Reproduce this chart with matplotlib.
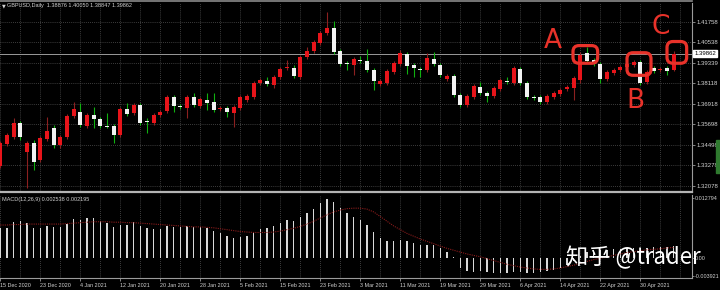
import matplotlib
matplotlib.use('Agg')
import matplotlib.pyplot as plt
import matplotlib.transforms as mtransforms
from matplotlib.patches import FancyBboxPatch, Rectangle
import numpy as np

# GBPUSD daily, 15 Dec 2020 .. 4 May 2021
opens = [1.3325, 1.3455, 1.3496, 1.3578, 1.3407, 1.3460, 1.3360, 1.3484, 1.3549, 1.3449,
         1.3496, 1.3619, 1.3643, 1.3560, 1.3625, 1.3602, 1.3560, 1.3560, 1.3508, 1.3661,
         1.3637, 1.3684, 1.3590, 1.3578, 1.3625, 1.3649, 1.3731, 1.3678, 1.3666, 1.3731,
         1.3678, 1.3714, 1.3702, 1.3661, 1.3666, 1.3637, 1.3666, 1.3714, 1.3731, 1.3814,
         1.3826, 1.3802, 1.3849, 1.3902, 1.3902, 1.3849, 1.3967, 1.4002, 1.4049, 1.4108,
         1.4138, 1.4002, 1.3932, 1.3920, 1.3949, 1.3943, 1.3890, 1.3808, 1.3814, 1.3879,
         1.3926, 1.3985, 1.3920, 1.3896, 1.3890, 1.3955, 1.3920, 1.3837, 1.3855, 1.3743,
         1.3684, 1.3731, 1.3790, 1.3755, 1.3737, 1.3778, 1.3826, 1.3814, 1.3896, 1.3814,
         1.3731, 1.3731, 1.3702, 1.3731, 1.3749, 1.3778, 1.3784, 1.3831, 1.3990, 1.3949,
         1.3926, 1.3837, 1.3873, 1.3890, 1.3908, 1.3920, 1.3937, 1.3820, 1.3902, 1.3890,
         1.3902, 1.38876]
highs = [1.3472, 1.3519, 1.3608, 1.3590, 1.3472, 1.3478, 1.3502, 1.3613, 1.3566, 1.3508,
         1.3631, 1.3702, 1.3696, 1.3637, 1.3672, 1.3613, 1.3637, 1.3572, 1.3672, 1.3696,
         1.3696, 1.3696, 1.3608, 1.3637, 1.3655, 1.3743, 1.3743, 1.3690, 1.3743, 1.3755,
         1.3731, 1.3755, 1.3755, 1.3678, 1.3678, 1.3684, 1.3743, 1.3749, 1.3826, 1.3843,
         1.3849, 1.3861, 1.3908, 1.3949, 1.3920, 1.3979, 1.4026, 1.4067, 1.4120, 1.4232,
         1.4179, 1.4014, 1.3943, 1.3967, 1.3973, 1.4014, 1.3902, 1.3837, 1.3896, 1.3943,
         1.4008, 1.3996, 1.3932, 1.3908, 1.3990, 1.3996, 1.3932, 1.3867, 1.3867, 1.3755,
         1.3749, 1.3808, 1.3820, 1.3767, 1.3796, 1.3843, 1.3849, 1.3914, 1.3908, 1.3826,
         1.3743, 1.3743, 1.3749, 1.3767, 1.3784, 1.3802, 1.3855, 1.3996, 1.4026, 1.3961,
         1.3937, 1.3890, 1.3902, 1.3920, 1.3937, 1.3949, 1.3949, 1.3890, 1.3914, 1.3908,
         1.3914, 1.40050]
lows = [1.3313, 1.3443, 1.3484, 1.3478, 1.3195, 1.3301, 1.3348, 1.3472, 1.3431, 1.3431,
        1.3484, 1.3608, 1.3554, 1.3549, 1.3549, 1.3549, 1.3549, 1.3460, 1.3496, 1.3619,
        1.3625, 1.3566, 1.3519, 1.3566, 1.3613, 1.3637, 1.3643, 1.3661, 1.3608, 1.3672,
        1.3666, 1.3655, 1.3643, 1.3649, 1.3613, 1.3554, 1.3655, 1.3702, 1.3719, 1.3802,
        1.3796, 1.3784, 1.3837, 1.3890, 1.3843, 1.3837, 1.3955, 1.3990, 1.4038, 1.4097,
        1.3985, 1.3914, 1.3890, 1.3861, 1.3932, 1.3879, 1.3772, 1.3796, 1.3802, 1.3867,
        1.3914, 1.3867, 1.3849, 1.3849, 1.3879, 1.3914, 1.3849, 1.3826, 1.3731, 1.3672,
        1.3672, 1.3719, 1.3743, 1.3702, 1.3725, 1.3767, 1.3808, 1.3802, 1.3802, 1.3719,
        1.3714, 1.3690, 1.3690, 1.3719, 1.3737, 1.3767, 1.3714, 1.3814, 1.3932, 1.3914,
        1.3814, 1.3826, 1.3861, 1.3879, 1.3896, 1.3908, 1.3802, 1.3808, 1.3873, 1.3879,
        1.3861, 1.38847]
closes = [1.3460, 1.3508, 1.3578, 1.3496, 1.3460, 1.3348, 1.3490, 1.3531, 1.3449, 1.3496,
          1.3619, 1.3661, 1.3566, 1.3625, 1.3602, 1.3560, 1.3554, 1.3508, 1.3661, 1.3631,
          1.3684, 1.3578, 1.3584, 1.3625, 1.3643, 1.3731, 1.3678, 1.3672, 1.3731, 1.3684,
          1.3719, 1.3696, 1.3655, 1.3666, 1.3643, 1.3672, 1.3731, 1.3737, 1.3814, 1.3831,
          1.3808, 1.3849, 1.3896, 1.3908, 1.3855, 1.3967, 1.4002, 1.4055, 1.4108, 1.4138,
          1.3996, 1.3926, 1.3926, 1.3955, 1.3943, 1.3890, 1.3826, 1.3826, 1.3885, 1.3932,
          1.3990, 1.3914, 1.3902, 1.3890, 1.3961, 1.3926, 1.3861, 1.3855, 1.3743, 1.3684,
          1.3737, 1.3796, 1.3755, 1.3737, 1.3784, 1.3831, 1.3820, 1.3902, 1.3814, 1.3731,
          1.3725, 1.3702, 1.3737, 1.3755, 1.3772, 1.3790, 1.3843, 1.3979, 1.3943, 1.3926,
          1.3837, 1.3879, 1.3890, 1.3908, 1.3926, 1.3937, 1.3814, 1.3879, 1.3885, 1.3896,
          1.3885, 1.39862]

macd = [0.0064, 0.0064, 0.0076, 0.0079, 0.0074, 0.0064, 0.0064, 0.0068, 0.0066, 0.0066,
        0.0072, 0.0083, 0.0081, 0.0085, 0.0085, 0.0079, 0.0074, 0.0066, 0.0070, 0.0070,
        0.0076, 0.0068, 0.0064, 0.0061, 0.0061, 0.0068, 0.0066, 0.0066, 0.0068, 0.0066,
        0.0066, 0.0064, 0.0057, 0.0053, 0.0046, 0.0042, 0.0044, 0.0046, 0.0055, 0.0061,
        0.0064, 0.0068, 0.0074, 0.0081, 0.0079, 0.0087, 0.0096, 0.0104, 0.0117, 0.0126,
        0.0119, 0.0106, 0.0096, 0.0087, 0.0081, 0.0070, 0.0055, 0.0042, 0.0036, 0.0036,
        0.0038, 0.0036, 0.0032, 0.0027, 0.0027, 0.0027, 0.0021, 0.0012, 0.0002, -0.0022,
        -0.0028, -0.0031, -0.0028, -0.0031, -0.0033, -0.0033, -0.0033, -0.0031, -0.0031, -0.0033,
        -0.0033, -0.0031, -0.0028, -0.0026, -0.0022, -0.0015, -0.0006, 0.0004, 0.0012, 0.0016,
        0.0016, 0.0017, 0.0018, 0.0019, 0.0020, 0.0021, 0.0020, 0.0021, 0.0022, 0.0023,
        0.0024, 0.002538]
signal = [0.0070, 0.0070, 0.0071, 0.0071, 0.0072, 0.0072, 0.0072, 0.0072, 0.0072, 0.0072,
          0.0073, 0.0074, 0.0075, 0.0076, 0.0077, 0.0077, 0.0077, 0.0076, 0.0076, 0.0075,
          0.0075, 0.0074, 0.0073, 0.0072, 0.0071, 0.0070, 0.0069, 0.0068, 0.0067, 0.0066,
          0.0066, 0.0065, 0.0064, 0.0062, 0.0060, 0.0058, 0.0056, 0.0055, 0.0054, 0.0054,
          0.0054, 0.0055, 0.0057, 0.0060, 0.0063, 0.0067, 0.0072, 0.0078, 0.0085, 0.0092,
          0.0098, 0.0102, 0.0105, 0.0106, 0.0106, 0.0104, 0.0098, 0.0088, 0.0078, 0.0068,
          0.0060, 0.0052, 0.0046, 0.0040, 0.0035, 0.0030, 0.0025, 0.0020, 0.0016, 0.0012,
          0.0008, 0.0005, 0.0002, -0.0002, -0.0006, -0.0010, -0.0014, -0.0017, -0.0020, -0.0022,
          -0.0024, -0.0025, -0.0025, -0.0024, -0.0022, -0.0019, -0.0016, -0.0012, -0.0008, -0.0004,
          -0.0001, 0.0002, 0.0005, 0.0008, 0.0011, 0.0013, 0.0015, 0.0017, 0.0018, 0.0019,
          0.0021, 0.002195]

date_labels = ['15 Dec 2020', '23 Dec 2020', '4 Jan 2021', '12 Jan 2021', '20 Jan 2021',
               '28 Jan 2021', '5 Feb 2021', '15 Feb 2021', '23 Feb 2021', '3 Mar 2021',
               '11 Mar 2021', '19 Mar 2021', '29 Mar 2021', '6 Apr 2021', '14 Apr 2021',
               '22 Apr 2021', '30 Apr 2021']
price_ticks = [1.41758, 1.40538, 1.39339, 1.38118, 1.36918, 1.35698, 1.34498, 1.33278, 1.32078]
macd_ticks = [0.012794, 0.0, -0.003921]
last_price = 1.39862

BG = 'black'
TXT = '#d2d2d2'
GRID = '#505050'
BULL = '#e8141a'
BEAR = '#f2f2f2'
BULL_WICK = '#8c2020'
BEAR_WICK = '#10b010'
MARK = '#e8322a'
SMALL = 'Liberation Sans'


def main() -> int:
    W, H = 720, 290
    fig = plt.figure(figsize=(W / 100, H / 100), dpi=100, facecolor=BG)
    ax = fig.add_axes([0, (H - 192) / H, 692 / W, 189 / H], facecolor=BG)
    ax2 = fig.add_axes([0, (H - 278) / H, 692 / W, 83 / H], facecolor=BG)

    n = len(opens)
    idx = np.arange(n)
    xlim = (-0.05, 103.75)

    # grid
    for a in (ax, ax2):
        for k in range(0, 105, 3):
            a.axvline(k, color=GRID, lw=0.6, ls=(0, (1, 1.5)), zorder=0)
    for p in price_ticks:
        ax.axhline(p, color=GRID, lw=0.6, ls=(0, (1, 1.5)), zorder=0)
    ax.axhline(last_price, color='#9a9a9a', lw=0.7, zorder=1)

    # candles
    o = np.array(opens); c = np.array(closes)
    up = c >= o
    ax.vlines(idx[up], np.array(lows)[up], np.array(highs)[up], color=BULL_WICK, lw=0.8, zorder=2)
    ax.vlines(idx[~up], np.array(lows)[~up], np.array(highs)[~up], color=BEAR_WICK, lw=0.8, zorder=2)
    body = np.maximum(np.abs(c - o), 0.0006)
    ax.bar(idx[up], body[up], bottom=o[up], width=0.64, color=BULL, zorder=3)
    ax.bar(idx[~up], body[~up], bottom=c[~up], width=0.64, color=BEAR, zorder=3)

    ax.set_xlim(*xlim)
    ax.set_ylim(1.31717, 1.42849)
    ax.set_xticks([])
    ax.yaxis.tick_right()
    ax.set_yticks(price_ticks)
    ax.set_yticklabels(['%.5f' % p for p in price_ticks], family=SMALL)
    ax.tick_params(axis='y', colors='#9a9a9a', labelcolor=TXT, labelsize=4.3, length=2, pad=1.5, width=0.6)

    # current price box
    tr = mtransforms.blended_transform_factory(ax.transAxes, ax.transData)
    ax.text(1.003, last_price, '%.5f' % last_price, transform=tr, fontsize=4.3, family=SMALL,
            color='black', va='center', ha='left', clip_on=False,
            bbox=dict(boxstyle='square,pad=0.2', fc='white', ec='white'))

    # annotation boxes and letters
    asp = (0.000589 / 0.15)
    for x0, x1, y0, y1 in [(85.9, 89.6, 1.3930, 1.4034),
                           (94.0, 97.6, 1.3859, 1.3992),
                           (100.0, 102.95, 1.3930, 1.4058)]:
        ax.add_patch(FancyBboxPatch((x0, y0), x1 - x0, y1 - y0,
                                    boxstyle='round,pad=0,rounding_size=0.9',
                                    mutation_aspect=asp, fill=False,
                                    ec=MARK, lw=2.3, zorder=5, clip_on=False))
    for lab, x, y in [('A', 82.8, 1.4060), ('B', 95.3, 1.3705), ('C', 99.0, 1.4145)]:
        ax.text(x, y, lab, color=MARK, fontsize=19, ha='center', va='center', zorder=6)

    for s in ('left', 'top'):
        ax.spines[s].set_visible(False)
    ax.spines['right'].set_color('#9a9a9a')
    ax.spines['bottom'].set_color('#b4b4b4')
    ax.spines['bottom'].set_linewidth(1.6)
    ax.spines['right'].set_linewidth(0.8)

    # MACD panel
    ax2.bar(idx, macd, width=0.16, color='#d8d8d8', zorder=2)
    ax2.plot(idx, signal, color='#8a1c1c', lw=0.8, ls=(0, (1, 1)), zorder=3)
    ax2.set_xlim(*xlim)
    ax2.set_ylim(-0.00434, 0.01342)
    ax2.yaxis.tick_right()
    ax2.set_yticks(macd_ticks)
    ax2.set_yticklabels(['0.012794', '0.00', '-0.003921'], family=SMALL)
    ax2.tick_params(axis='y', colors='#9a9a9a', labelcolor=TXT, labelsize=3.9, length=1.5, pad=0.6, width=0.6)
    ax2.set_xticks(np.arange(0, 6 * len(date_labels), 6))
    ax2.set_xticklabels(date_labels, ha='left', family=SMALL)
    ax2.tick_params(axis='x', colors='#9a9a9a', labelcolor=TXT, labelsize=3.9, length=2, pad=1.5, width=0.6)
    for s in ('left', 'top'):
        ax2.spines[s].set_visible(False)
    ax2.spines['right'].set_color('#9a9a9a')
    ax2.spines['bottom'].set_color('#9a9a9a')
    ax2.spines['right'].set_linewidth(0.8)
    ax2.spines['bottom'].set_linewidth(0.8)

    # header texts
    fig.text(2 / W, 1 - 6 / H, '\u25bc', fontsize=3.5, color=TXT, va='center', ha='left')
    fig.text(7 / W, 1 - 6 / H, 'GBPUSD,Daily  1.38876 1.40050 1.38847 1.39862',
             fontsize=4.0, family=SMALL, color=TXT, va='center', ha='left')
    fig.text(2 / W, 1 - 199 / H, 'MACD(12,26,9) 0.002538 0.002195',
             fontsize=4.0, family=SMALL, color=TXT, va='center', ha='left')
    fig.add_artist(plt.Line2D([0, 692 / W], [1 - 1.2 / H, 1 - 1.2 / H], color='#8a8a8a', lw=1.2))
    fig.add_artist(Rectangle((716 / W, 1 - 173 / H), 4 / W, 33 / H, color='#2f7a2f'))

    # watermark
    fig.text(566 / W, 1 - 258 / H, '知乎 @trader', fontsize=16, color='white',
             family=['Noto Sans CJK SC', 'DejaVu Sans'], va='center', ha='left', zorder=10)

    fig.savefig('out.png', dpi=100, facecolor=BG)
    return 0


if __name__ == '__main__':
    main()
